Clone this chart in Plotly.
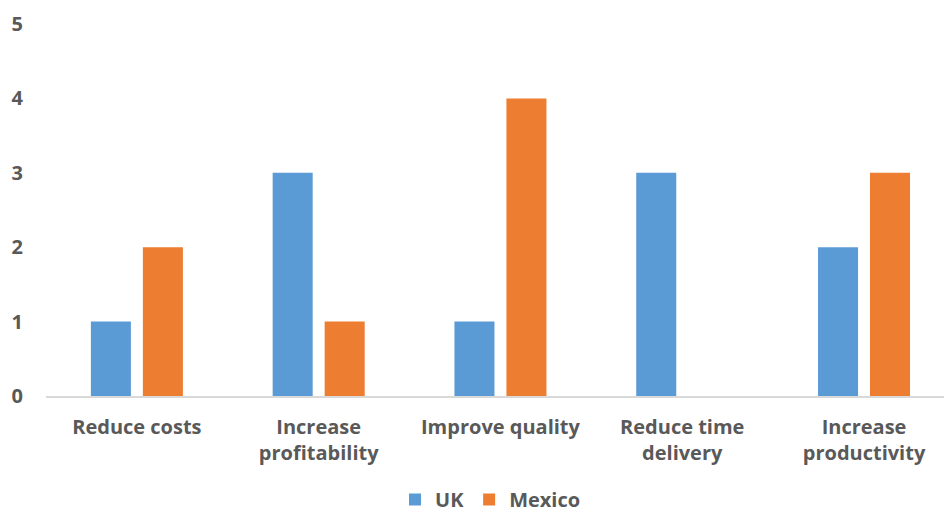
import plotly.graph_objects as go

categories = ["Reduce costs", "Increase<br>profitability", "Improve quality",
              "Reduce time<br>delivery", "Increase<br>productivity"]
uk_values = [1, 3, 1, 3, 2]
mexico_values = [2, 1, 4, 0, 3]
y_ticks = [0, 1, 2, 3, 4, 5]

font_family = "Open Sans, Noto Sans, sans-serif"
text_color = "#595959"

fig = go.Figure()
fig.add_trace(go.Bar(name="UK", x=list(range(len(categories))), y=uk_values,
                     marker=dict(color="#5B9BD5", line=dict(width=0))))
fig.add_trace(go.Bar(name="Mexico", x=list(range(len(categories))), y=mexico_values,
                     marker=dict(color="#ED7D31", line=dict(width=0))))

fig.update_layout(
    width=944, height=519,
    margin=dict(l=46, r=0, t=24, b=123, autoexpand=False),
    paper_bgcolor="white", plot_bgcolor="white",
    barmode="group", bargap=0.428, bargroupgap=0.23,
    font=dict(family=font_family, color=text_color),
    showlegend=True,
    legend=dict(orientation="h", x=0.495, xref="paper", xanchor="center",
                y=-0.008, yref="container", yanchor="bottom",
                font=dict(size=20, color=text_color, family=font_family, weight="bold"),
                itemsizing="constant", traceorder="normal"),
    xaxis=dict(
        tickmode="array", tickvals=list(range(len(categories))), ticktext=categories,
        range=[-0.5, 4.44], showgrid=False, zeroline=False,
        showline=True, linecolor="#D9D9D9", linewidth=1.5,
        ticks="", ticklabelstandoff=12, automargin=False,
        tickfont=dict(size=20, color=text_color, family=font_family, weight="bold"),
    ),
    yaxis=dict(
        range=[0, 5], tickvals=y_ticks, showgrid=False, zeroline=False,
        showline=False, ticks="", ticklabelstandoff=22, automargin=False,
        tickfont=dict(size=20, color=text_color, family=font_family, weight="bold"),
    ),
)

fig.write_html("out.html")
